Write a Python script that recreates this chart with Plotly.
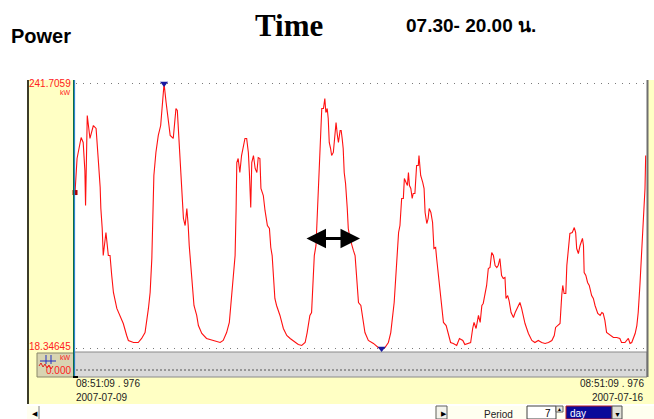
import plotly.graph_objects as go
import pandas as pd

# ---------------- data ----------------
start_time = "2007-07-09 08:51:09.976"
end_label_time = "08:51:09 . 976"
start_date_label = "2007-07-09"
end_date_label = "2007-07-16"

hours = [
    0.3, 0.9, 2.1, 2.7, 3.2, 3.4, 3.9, 4.7, 5.7, 6.5, 7.2, 7.7, 7.9, 8.3, 8.6, 9.4, 10.1, 10.6,
    11.1, 11.6, 12.6, 13.5, 14.5, 15.5, 16.0, 17.5, 18.9, 19.9, 20.9, 21.9, 22.4, 22.9, 23.2,
    23.5, 24.1, 24.8, 25.5, 26.1, 26.5, 27.1, 27.8, 28.3, 29.2, 30.0, 30.4, 30.8, 31.2, 31.5,
    32.2, 32.7, 33.2, 33.6, 33.9, 34.6, 35.3, 36.1, 36.6, 37.6, 39.0, 41.0, 42.5, 43.0, 43.9,
    44.9, 45.7, 46.4, 46.9, 47.4, 47.7, 47.9, 48.3, 48.8, 49.3, 49.8, 50.3, 50.8, 51.3, 51.6,
    52.0, 52.3, 52.8, 53.3, 53.8, 54.2, 54.7, 55.0, 55.7, 56.2, 56.9, 57.5, 57.9, 58.3, 58.6,
    59.1, 59.6, 60.6, 61.6, 62.6, 63.6, 65.0, 66.0, 67.0, 68.0, 68.6, 69.4, 69.9, 70.4, 70.7,
    71.2, 71.7, 72.1, 72.4, 72.9, 73.4, 73.8, 74.1, 74.5, 74.8, 75.1, 75.5, 75.8, 76.3, 76.8,
    77.1, 77.5, 77.8, 78.3, 78.6, 78.9, 79.2, 79.5, 79.9, 80.4, 80.7, 81.2, 81.7, 82.2, 82.7,
    83.2, 83.7, 84.4, 84.9, 85.6, 86.6, 88.1, 89.5, 90.5, 91.5, 92.5, 93.2, 93.7, 94.2, 94.7,
    95.1, 95.5, 95.9, 96.4, 96.9, 97.2, 97.7, 98.1, 98.4, 98.7, 99.1, 99.5, 99.8, 100.3, 100.8,
    101.3, 101.5, 102.0, 102.6, 103.0, 103.3, 103.8, 104.2, 104.5, 105.0, 105.5, 105.9, 106.4,
    106.7, 107.2, 107.7, 108.2, 108.7, 109.5, 110.1, 110.8, 111.6, 112.6, 113.4, 114.4, 115.0,
    115.7, 116.7, 117.3, 117.7, 118.3, 119.0, 119.5, 120.0, 120.4, 120.9, 121.4, 121.9, 122.4,
    122.9, 123.4, 123.9, 124.4, 124.8, 125.3, 125.8, 126.3, 126.8, 127.1, 127.6, 128.0, 128.6,
    129.0, 129.3, 129.8, 130.3, 130.7, 131.2, 131.7, 132.2, 132.7, 133.2, 133.7, 134.7, 135.6,
    136.6, 137.6, 138.6, 139.6, 140.6, 141.3, 141.7, 142.3, 143.0, 143.5, 143.8, 144.2, 144.7,
    145.0, 145.4, 145.9, 146.6, 147.2, 147.6, 147.9, 148.4, 148.9, 149.6, 149.9, 150.1, 150.6,
    151.1, 151.6, 152.3, 152.8, 153.3, 154.1, 154.8, 155.3, 155.7, 156.2, 156.7, 157.7, 158.7,
    159.7, 160.6, 161.1, 162.1, 163.1, 163.6, 164.1, 164.6, 165.1, 165.6, 166.0, 166.5, 167.0,
    167.5, 167.8, 168.0, 168.2,
]
power_kw = [
    149.8, 178.5, 196.2, 192.0, 168.4, 138.9, 214.7, 195.4, 206.3, 203.8, 175.1, 154.1, 136.4,
    119.5, 96.7, 116.1, 96.7, 96.7, 79.9, 65.6, 52.1, 46.2, 39.4, 29.3, 25.1, 23.4, 23.4, 26.8,
    31.8, 52.1, 65.6, 94.2, 130.4, 164.2, 183.6, 197.9, 206.3, 229.1, 241.7, 225.7, 208.8,
    197.9, 195.4, 220.6, 219.0, 197.9, 183.6, 158.3, 127.9, 122.0, 136.4, 122.0, 105.2, 79.9,
    54.6, 46.2, 37.7, 31.0, 26.8, 25.1, 23.4, 23.4, 25.1, 31.8, 40.3, 65.6, 79.9, 96.7, 136.4,
    175.1, 178.5, 166.7, 181.0, 189.5, 195.4, 195.4, 183.6, 166.7, 137.2, 175.1, 181.0, 170.1,
    166.7, 179.3, 178.5, 153.2, 147.3, 134.7, 122.0, 119.5, 103.5, 96.7, 79.9, 60.5, 54.6, 46.2,
    35.2, 29.3, 26.8, 23.4, 21.7, 20.9, 23.4, 31.8, 46.2, 48.7, 79.9, 96.7, 105.2, 141.4, 164.2,
    192.0, 220.6, 220.6, 229.1, 217.3, 220.6, 212.2, 192.0, 186.9, 181.0, 183.6, 197.9, 208.8,
    197.9, 192.0, 202.1, 202.1, 195.4, 186.9, 166.7, 157.4, 136.4, 119.5, 111.1, 105.2, 101.0,
    96.7, 79.9, 57.1, 54.6, 43.6, 31.8, 25.1, 22.6, 19.2, 18.35, 19.2, 23.4, 31.8, 46.2, 57.1,
    79.9, 94.2, 116.1, 122.0, 144.8, 144.8, 161.6, 158.3, 155.7, 166.7, 155.7, 153.2, 144.8,
    149.0, 149.0, 172.6, 172.6, 181.0, 164.2, 158.3, 153.2, 133.0, 123.7, 127.9, 136.4, 133.0,
    124.6, 102.6, 103.5, 94.2, 79.9, 65.6, 54.6, 40.3, 37.7, 31.8, 23.4, 22.6, 20.9, 26.8, 25.1,
    21.7, 22.6, 23.4, 35.2, 40.3, 35.2, 46.2, 40.3, 54.6, 56.3, 65.6, 71.5, 85.8, 86.6, 99.3,
    96.7, 88.3, 86.6, 88.3, 94.2, 79.9, 77.4, 78.2, 60.5, 63.0, 58.8, 48.7, 46.2, 44.5, 48.7,
    52.1, 54.6, 57.1, 52.1, 44.5, 39.4, 35.2, 31.0, 25.1, 23.4, 25.1, 23.4, 22.6, 23.4, 25.1,
    29.3, 36.1, 37.7, 39.4, 63.0, 71.5, 64.7, 64.7, 88.3, 102.6, 115.3, 116.1, 120.3, 116.1,
    102.6, 98.4, 105.2, 111.1, 105.2, 82.4, 79.9, 74.0, 71.5, 63.0, 60.5, 54.6, 47.9, 46.2,
    48.7, 47.9, 42.0, 31.8, 29.3, 27.6, 27.6, 26.8, 23.4, 23.4, 26.8, 22.6, 23.4, 26.8, 31.0,
    37.7, 48.7, 71.5, 99.3, 130.4, 141.4, 153.2, 181.0,
]
y_max_value = 241.7059
y_min_value = 18.34645
y_max_text = "241.7059"
y_min_text = "18.34645"
zero_text = "0.000"
unit_text = "kW"
peak_hour = 26.5
min_hour = 90.5
start_marker_hour = 0.3
start_marker_kw = 149.8

title_left = "Power"
title_mid = "Time"
title_right = "07.30- 20.00 น."
period_label = "Period"
period_value = "7"
period_unit = "day"

# ---------------- helpers ----------------
W, H = 654, 419
t0 = pd.Timestamp(start_time)


def T(h):
    return t0 + pd.to_timedelta(h, unit="h")


def px(x):
    return x / W


def py(y):
    return 1 - y / H


times = [T(h) for h in hours]

fig = go.Figure()
fig.add_trace(go.Scatter(
    x=times, y=power_kw, mode="lines",
    line=dict(color="#ff1010", width=1.1),
    hoverinfo="skip", showlegend=False,
))
# max / min markers
fig.add_trace(go.Scatter(
    x=[T(peak_hour), T(min_hour)], y=[y_max_value, y_min_value], mode="markers",
    marker=dict(symbol="triangle-down", size=7, color="#1a1aa0"),
    cliponaxis=False, showlegend=False, hoverinfo="skip",
))
fig.add_trace(go.Scatter(
    x=[T(start_marker_hour)], y=[start_marker_kw], mode="markers",
    marker=dict(symbol="square", size=5, color="#b00000"),
    cliponaxis=False, showlegend=False, hoverinfo="skip",
))

# axes geometry
x_left, x_right = 74, 647
y_top, y_bot = 80, 350
k = (348.5 - 83.5) / (y_max_value - y_min_value)
y_lo = y_min_value - (y_bot - 348.5) / k
y_hi = y_max_value + (83.5 - y_top) / k
h_per_px = 168.0 / (645 - 74)
x_hi_h = (x_right - x_left) * h_per_px

fig.update_xaxes(domain=[px(x_left), px(x_right)], range=[T(0), T(x_hi_h)],
                 visible=False, showgrid=False, zeroline=False)
fig.update_yaxes(domain=[py(y_bot), py(y_top)], range=[y_lo, y_hi],
                 visible=False, showgrid=False, zeroline=False)

shapes = []


def rect(x0, y0, x1, y1, fill, line=None, lw=0, layer="below"):
    shapes.append(dict(type="rect", xref="paper", yref="paper",
                       x0=px(x0), x1=px(x1), y0=py(y0), y1=py(y1),
                       fillcolor=fill, line=dict(color=line or fill, width=lw),
                       layer=layer))


def hline(x0, x1, y, color, width=1, dash="solid", layer="above"):
    shapes.append(dict(type="line", xref="paper", yref="paper",
                       x0=px(x0), x1=px(x1), y0=py(y), y1=py(y),
                       line=dict(color=color, width=width, dash=dash), layer=layer))


def vline(x, y0, y1, color, width=1, layer="above"):
    shapes.append(dict(type="line", xref="paper", yref="paper",
                       x0=px(x), x1=px(x), y0=py(y0), y1=py(y1),
                       line=dict(color=color, width=width), layer=layer))


def path(pts, color, width=1, fill=None):
    d = "M " + " L ".join(f"{px(a):.5f},{py(b):.5f}" for a, b in pts)
    if fill:
        d += " Z"
    shapes.append(dict(type="path", xref="paper", yref="paper", path=d,
                       line=dict(color=color, width=width),
                       fillcolor=fill or "rgba(0,0,0,0)", layer="above"))


YEL = "#ffffc4"
rect(27, 80, 74, 404, YEL)
rect(27, 377, 654, 404, YEL)
rect(648, 80, 654, 377, YEL)
rect(27, 406, 654, 419, "#fffff0")
vline(28, 80, 404, "#3c3c28", 2)
rect(74, 352, 647, 377, "#d9d9d9", "#8a8a8a", 1)
hline(76, 645, 370, "#555555", 1, "2px,2px")
rect(37, 353, 74, 377, "#d8d4b2", "#8a8868", 1)
vline(46, 355, 364, "#2030c0", 1)
vline(51, 355, 364, "#2030c0", 1)
hline(40, 56, 361, "#2030c0", 1)
path([(39, 366), (41, 363), (43, 367), (45, 364), (47, 368), (49, 365), (51, 369), (53, 366)],
     "#e02020", 1)
vline(73.5, 80, 377, "#0c6a44", 1)
vline(74.6, 80, 377, "#1a78c8", 1)
vline(647.5, 80, 377, "#6f6f6f", 2)
hline(73, 78, 377, "#000000", 2)
for v in (y_max_value, y_min_value):
    shapes.append(dict(type="line", xref="paper", yref="y",
                       x0=px(76), x1=px(646), y0=v, y1=v,
                       line=dict(color="#7a7a7a", width=1.2, dash="1px,6px"),
                       layer="below"))
rect(39, 406, 435, 419, "#ffffff", "#ffffff", 0)
vline(39, 406, 419, "#808080", 1)
rect(436, 406, 447, 419, "#f4f4ec", "#606060", 1)
rect(527, 406, 556, 419, "#ffffff", "#404040", 1)
rect(556, 406, 563, 412, "#e8e8e0", "#606060", 1)
rect(566, 406, 612, 419, "#0a0a9a", "#c02020", 1)
rect(612, 406, 622, 419, "#e0e0d8", "#505050", 1)

fig.update_layout(shapes=shapes)

ann = []
FS = "Liberation Sans, Arial, sans-serif"


def text(x, y, s, size, color="#000000", family=FS, xanchor="left", bold=False):
    if bold:
        s = f"<b>{s}</b>"
    ann.append(dict(x=px(x), y=py(y), xref="paper", yref="paper", text=s,
                    showarrow=False, xanchor=xanchor, yanchor="middle",
                    font=dict(size=size, color=color, family=family)))


text(9, 36, title_left, 20, bold=True)
text(289, 25, title_mid, 31, family="Liberation Serif, Times New Roman, serif",
     xanchor="center", bold=True)
text(404, 25, title_right, 19, bold=True)

RED = "#ff2020"
text(73, 84, y_max_text, 10, RED, xanchor="right")
text(73, 92, unit_text, 7, RED, xanchor="right")
text(73, 346, y_min_text, 10, RED, xanchor="right")
text(73, 357, unit_text, 7, RED, xanchor="right")
text(73, 370, zero_text, 10, RED, xanchor="right")

GR = "#222222"
text(74, 383, end_label_time, 10, GR)
text(74, 397, start_date_label, 10, GR)
text(646, 383, end_label_time, 10, GR, xanchor="right")
text(646, 397, end_date_label, 10, GR, xanchor="right")

text(30, 413, "◀", 7, "#000000")
text(439, 413, "▶", 7, "#000000")
text(482, 414, period_label, 10, GR)
text(553, 413, period_value, 10, "#000000", xanchor="right")
text(559.5, 409, "▲", 5, "#000000", xanchor="center")
text(568, 413, period_unit, 10, "#ffffff")
text(617, 414, "▼", 7, "#000000", xanchor="center")

arrow_y = y_min_value + (348 - 238) / k
ann.append(dict(x=T((360 - 74) * h_per_px), y=arrow_y,
                ax=T((305 - 74) * h_per_px), ay=arrow_y,
                xref="x", yref="y", axref="x", ayref="y", text="",
                showarrow=True, arrowhead=2, arrowside="end+start",
                arrowsize=1.3, arrowwidth=3, arrowcolor="#000000"))

fig.update_layout(
    annotations=ann,
    width=W, height=H,
    margin=dict(l=0, r=0, t=0, b=0),
    paper_bgcolor="#ffffff", plot_bgcolor="#ffffff",
    showlegend=False,
)
fig.write_html("out.html", config={"displayModeBar": False})
